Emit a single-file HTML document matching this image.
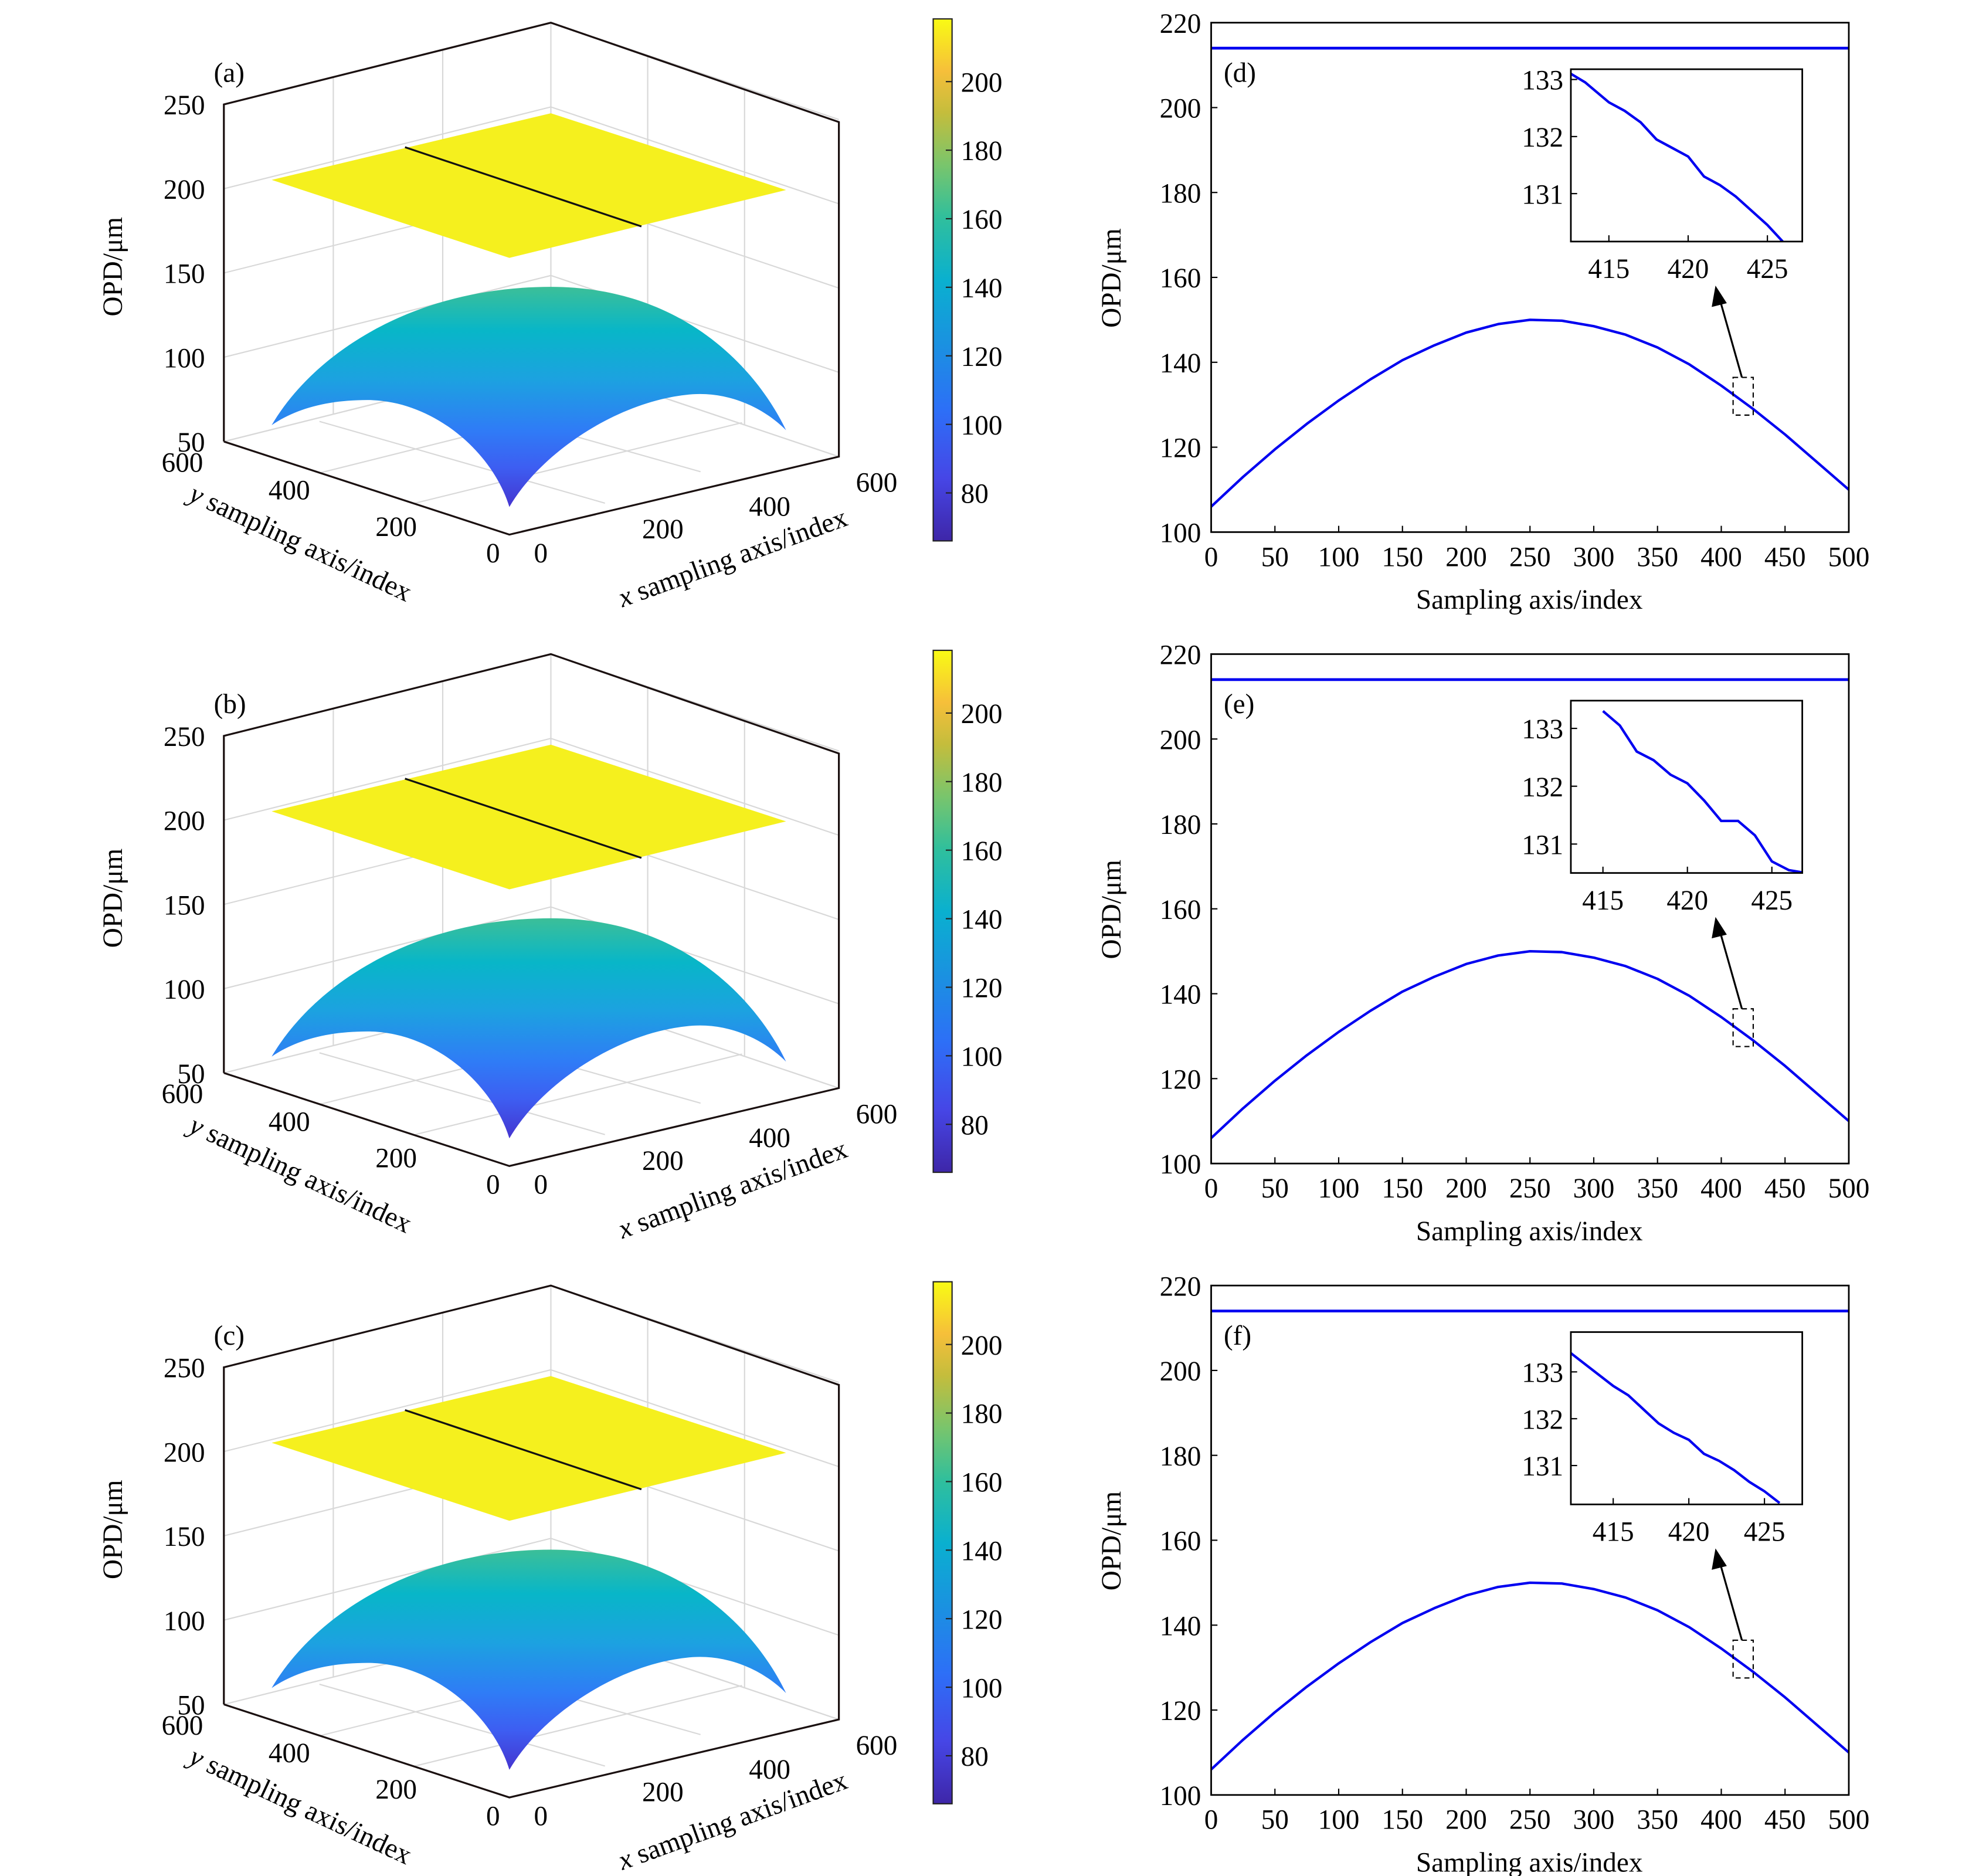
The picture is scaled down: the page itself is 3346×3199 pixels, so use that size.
<!DOCTYPE html>
<html><head><meta charset="utf-8">
<style>html,body{margin:0;padding:0;background:#fff}svg{display:block}text{font-family:"Liberation Serif",serif;fill:#000}</style>
</head><body>
<svg id="fig" width="3346" height="3199" viewBox="0 0 1560 1491.4" xmlns="http://www.w3.org/2000/svg">
<defs>
<linearGradient id="parula" x1="0" y1="1" x2="0" y2="0">
<stop offset="0" stop-color="#3e26a8"/><stop offset="0.12" stop-color="#4646e6"/><stop offset="0.25" stop-color="#2d6ff7"/><stop offset="0.38" stop-color="#1a92e0"/><stop offset="0.5" stop-color="#0ab0cf"/><stop offset="0.62" stop-color="#30bf9c"/><stop offset="0.72" stop-color="#79c56c"/><stop offset="0.82" stop-color="#c4bd3c"/><stop offset="0.9" stop-color="#f6bf3a"/><stop offset="1" stop-color="#f9fb14"/>
</linearGradient>
<linearGradient id="dome" x1="0" y1="228" x2="0" y2="403" gradientUnits="userSpaceOnUse">
<stop offset="0" stop-color="#3cbf98"/><stop offset="0.2" stop-color="#08b6c8"/><stop offset="0.42" stop-color="#1ca2e0"/><stop offset="0.65" stop-color="#2f7cf6"/><stop offset="0.82" stop-color="#3d5ef2"/><stop offset="1" stop-color="#4535d0"/>
</linearGradient>
</defs>
</svg>
<script>
// 2D line chart data
const xCats = [0,25,50,75,100,125,150,175,200,225,250,275,300,325,350,375,400,425,450,475,500];
const curveVals = [106,113,119.5,125.5,131,136,140.5,144,147,149,150,149.8,148.5,146.5,143.5,139.5,134.5,129,123,116.5,110];
const flatVals = [214,214,214,214,214,214,214,214,214,214,214,214,214,214,214,214,214,214,214,214,214];
const xTicks = [0,50,100,150,200,250,300,350,400,450,500];
const yTicks = [100,120,140,160,180,200,220];
const insetXd = [412.6,413.5,415,416,417,418,419,420,421,422,423,424,425,426];
const insetYd = [133.1,132.95,132.6,132.45,132.25,131.95,131.8,131.65,131.3,131.15,130.95,130.7,130.45,130.15];
const insetXe = [415,416,417,418,419,420,421,422,423,424,425,426,427];
const insetYe = [133.3,133.05,132.6,132.45,132.2,132.05,131.75,131.4,131.4,131.15,130.7,130.55,130.5];
const insetXf = [412.2,413,415,416,417,418,419,420,421,422,423,424,425,426];
const insetYf = [133.4,133.2,132.7,132.5,132.2,131.9,131.7,131.55,131.25,131.1,130.9,130.65,130.45,130.2];
const insetXTicks = [415,420,425];
const insetYTicks = [131,132,133];
const cbTicks = [80,100,120,140,160,180,200];
const zTicks = [50,100,150,200,250];

const FS=22;
const NS="http://www.w3.org/2000/svg";
const svg=document.getElementById('fig');
function el(tag,attrs,parent,txt){const e=document.createElementNS(NS,tag);for(const k in attrs)e.setAttribute(k,attrs[k]);if(txt!==undefined)e.textContent=txt;(parent||svg).appendChild(e);return e;}

function lineChart(off,label,ix,iy,inset){
  const g=el('g',{});
  
  
  const X0=963,X1=1470,Y0=18+off,Y1=423+off;
  const sx=v=>X0+(v-0)/(500)*(X1-X0);
  const sy=v=>Y1-(v-100)/120*(Y1-Y0);
  const mk=(xs,ys)=>xs.map((x,i)=>(i?'L':'M')+sx(x).toFixed(2)+','+sy(ys[i]).toFixed(2)).join('');
  let p=el('path',{d:mk(xCats,flatVals),fill:'none',stroke:'#0000f0','stroke-width':2.2},g);
  
  p=el('path',{d:mk(xCats,curveVals),fill:'none',stroke:'#0000f0','stroke-width':2,'stroke-linejoin':'round'},g);
  
  const box=el('rect',{x:X0,y:Y0,width:X1-X0,height:Y1-Y0,fill:'none',stroke:'#000','stroke-width':1.3},g);
  
  xTicks.forEach(t=>{el('line',{x1:sx(t),x2:sx(t),y1:Y1,y2:Y1-5,stroke:'#000'},g);
    const tx=el('text',{x:sx(t),y:Y1+27,'font-size':FS,'text-anchor':'middle'},g,t);
    });
  yTicks.forEach(t=>{el('line',{x1:X0,x2:X0+5,y1:sy(t),y2:sy(t),stroke:'#000'},g);
    const tx=el('text',{x:X0-8,y:sy(t)+8,'font-size':FS,'text-anchor':'end'},g,t);
    });
  let t=el('text',{x:1216,y:Y1+61,'font-size':FS,'text-anchor':'middle'},g,'Sampling axis/index');
  
  t=el('text',{x:0,y:0,'font-size':FS,'text-anchor':'middle','transform':`translate(891,${221+off}) rotate(-90)`},g,'OPD/μm');
  
  t=el('text',{x:973,y:65+off,'font-size':FS},g,'('+label+')');
  
  const zr=el('rect',{x:1378,y:300+off,width:16,height:30,fill:'none',stroke:'#000','stroke-width':1,'stroke-dasharray':'4,3'},g);
  
  const ar=el('line',{x1:1385,y1:300+off,x2:1368,y2:240+off,stroke:'#000','stroke-width':1.5},g);
  
  el('polygon',{points:`${1364},${227+off} ${1361},${244+off} ${1373},${241+off}`,fill:'#000'},g);
  const IX0=1249,IX1=1433,IY0=55+off,IY1=192+off;
  const isx=v=>IX0+(v-inset.x0)/(inset.x1-inset.x0)*(IX1-IX0);
  const isy=v=>IY1-(v-inset.y0)/(inset.y1-inset.y0)*(IY1-IY0);
  el('rect',{x:IX0,y:IY0,width:IX1-IX0,height:IY1-IY0,fill:'#fff'},g);
  el('clipPath',{id:'clip'+label},g).appendChild((()=>{const r=document.createElementNS(NS,'rect');r.setAttribute('x',IX0);r.setAttribute('y',IY0);r.setAttribute('width',IX1-IX0);r.setAttribute('height',IY1-IY0);return r;})());
  p=el('path',{d:ix.map((x,i)=>(i?'L':'M')+isx(x).toFixed(2)+','+isy(iy[i]).toFixed(2)).join(''),fill:'none',stroke:'#0000f0','stroke-width':2,'clip-path':`url(#clip${label})`},g);
  
  const ib=el('rect',{x:IX0,y:IY0,width:IX1-IX0,height:IY1-IY0,fill:'none',stroke:'#000','stroke-width':1.3},g);
  
  insetXTicks.forEach(v=>{el('line',{x1:isx(v),x2:isx(v),y1:IY1,y2:IY1-5,stroke:'#000'},g);
    const tx=el('text',{x:isx(v),y:IY1+29,'font-size':FS,'text-anchor':'middle'},g,v);
    });
  insetYTicks.forEach(v=>{el('line',{x1:IX0,x2:IX0+5,y1:isy(v),y2:isy(v),stroke:'#000'},g);
    const tx=el('text',{x:IX0-6,y:isy(v)+8,'font-size':FS,'text-anchor':'end'},g,v);
    });
}
lineChart(0,'d',insetXd,insetYd,{x0:412.6,x1:427.2,y0:130.16,y1:133.18});
lineChart(502,'e',insetXe,insetYe,{x0:413.1,x1:426.8,y0:130.5,y1:133.48});
lineChart(1004,'f',insetXf,insetYf,{x0:412.2,x1:427.5,y0:130.17,y1:133.85});

function surf(off,label){
  const g=el('g',{transform:`translate(0,${off})`});
  
  
  const gray='#d8d8d8';
  el('line',{x1:438,y1:18,x2:438,y2:286,stroke:gray},g);
  el('line',{x1:438,y1:286,x2:178,y2:351,stroke:gray},g);
  el('line',{x1:438,y1:286,x2:667,y2:363,stroke:gray},g);
  [[265,61],[352,40]].forEach(([x,y])=>el('line',{x1:x,y1:y,x2:x,y2:y+268,stroke:gray},g));
  [[515,44],[592,70]].forEach(([x,y])=>el('line',{x1:x,y1:y,x2:x,y2:y+268,stroke:gray},g));
  const zs=v=>351-(v-50)/200*268;
  zTicks.forEach(v=>{const dy=zs(v)-351;
    el('line',{x1:178,y1:351+dy,x2:438,y2:286+dy,stroke:gray},g);
    el('line',{x1:438,y1:286+dy,x2:667,y2:363+dy,stroke:gray},g);
    const tx=el('text',{x:163,y:zs(v)+8,'font-size':FS,'text-anchor':'end'},g,v);
    });
  [[254,376,514,311],[330,400,590,336]].forEach(a=>el('line',{x1:a[0],y1:a[1],x2:a[2],y2:a[3],stroke:gray},g));
  [[481,400,254,335],[557,375,330,311]].forEach(a=>el('line',{x1:a[0],y1:a[1],x2:a[2],y2:a[3],stroke:gray},g));
  let p=el('polygon',{points:'216,143 438,90 625,151 405,205',fill:'#f5f01e'},g);
  
  p=el('line',{x1:322,y1:117,x2:510,y2:180,stroke:'#111','stroke-width':1.5},g);
  
  p=el('path',{d:'M216,338 C250,280 330,228 438,228 C540,228 600,290 625,342 C605,322 575,310 545,314 C490,320 430,360 405,403 C392,360 345,318 292,318 C260,318 235,325 216,338 Z',fill:'url(#dome)'},g);
  
  const b=el('path',{d:'M178,351 L178,83 L438,18 L667,97 L667,363 L405,425 L178,351',fill:'none',stroke:'#1a1010','stroke-width':1.5},g);
  
  [['600',145,375],['400',230,397],['200',315,426],['0',392,447]].forEach(a=>{const t=el('text',{x:a[1],y:a[2],'font-size':FS,'text-anchor':'middle'},g,a[0]);});
  [['0',430,447],['200',527,428],['400',612,410],['600',697,391]].forEach(a=>{const t=el('text',{x:a[1],y:a[2],'font-size':FS,'text-anchor':'middle'},g,a[0]);});
  let t=el('text',{x:0,y:0,'font-size':FS,'text-anchor':'middle',transform:'translate(236,438) rotate(25)'},g);
  t.innerHTML='<tspan font-style="italic">y</tspan> sampling axis/index';
  
  t=el('text',{x:0,y:0,'font-size':FS,'text-anchor':'middle',transform:'translate(585,450) rotate(-20)'},g);
  t.innerHTML='<tspan font-style="italic">x</tspan> sampling axis/index';
  
  t=el('text',{x:0,y:0,'font-size':FS,'text-anchor':'middle',transform:'translate(97,212) rotate(-90)'},g,'OPD/μm');
  
  t=el('text',{x:170,y:65,'font-size':FS},g,'('+label+')');
  
  const cb=el('rect',{x:742,y:15,width:15,height:415,fill:'url(#parula)',stroke:'#222','stroke-width':1},g);
  
  const cs=v=>430-(v-66)/(218.3-66)*415;
  cbTicks.forEach(v=>{el('line',{x1:757,x2:752,y1:cs(v),y2:cs(v),stroke:'#222'},g);
    const tx=el('text',{x:764,y:cs(v)+8,'font-size':FS},g,v);
    });
}
surf(0,'a');surf(502,'b');surf(1004,'c');
</script>
</body></html>
